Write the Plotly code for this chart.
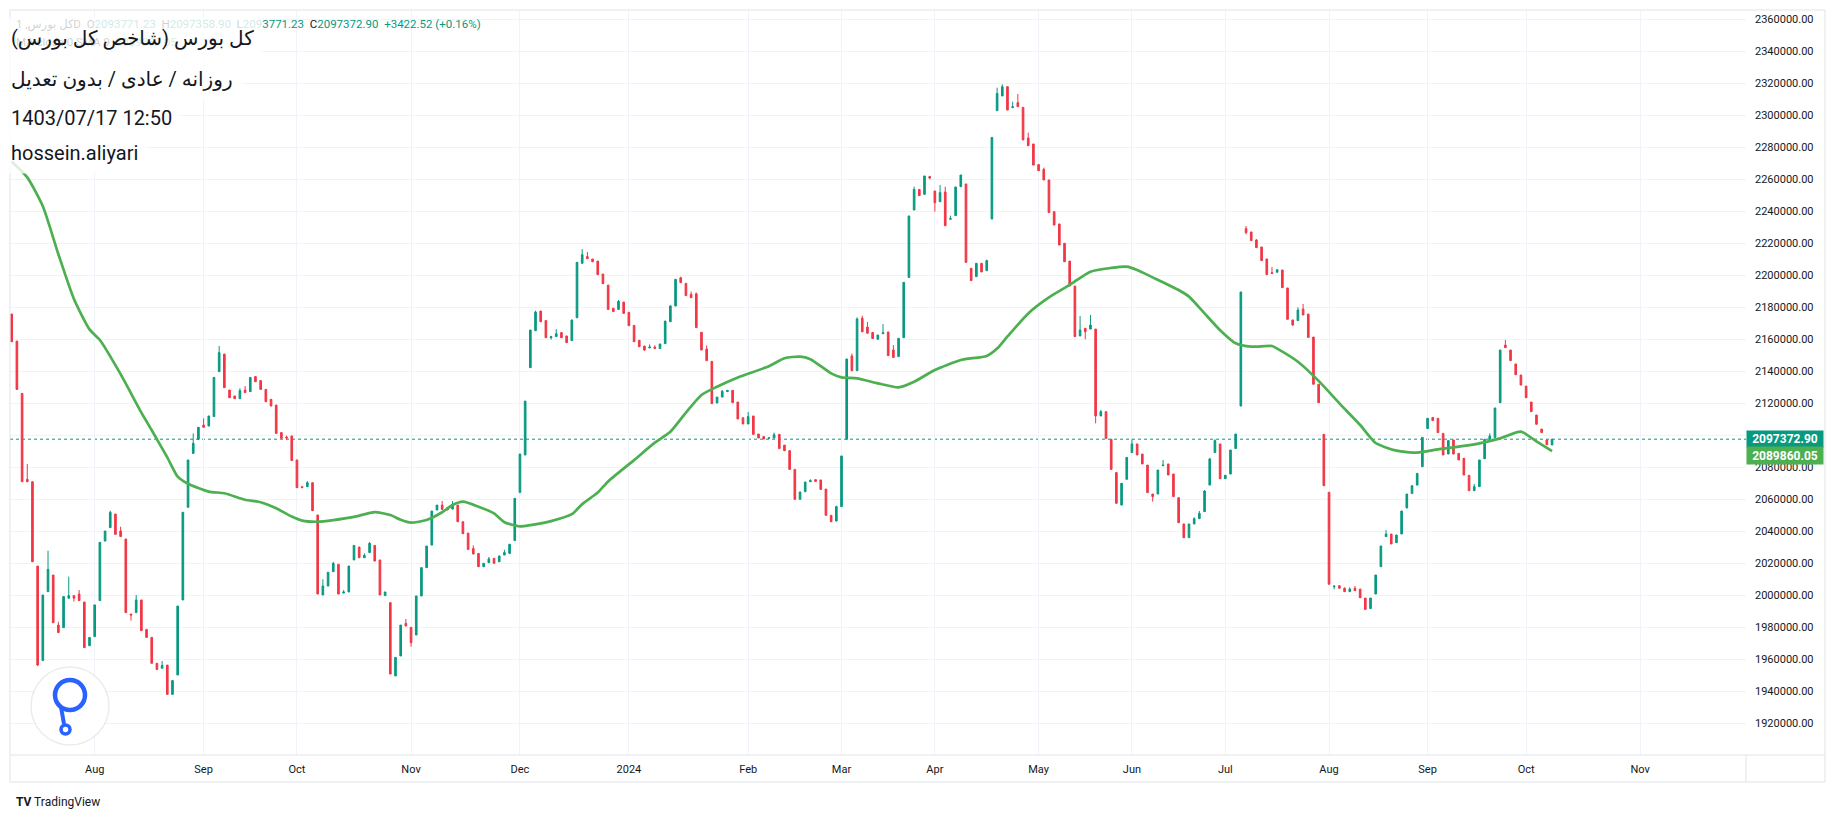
import plotly.graph_objects as go

# ---------------- data ----------------
opens = [
    2175600, 2158700, 2126000, 2072300, 2070800, 2018100, 1959000, 2002100, 2012500, 1981200,
    1979600, 1998000, 1999600, 2000600, 1995600, 1968300, 1974000, 1996500, 2033700, 2042100,
    2050600, 2040000, 2035000, 1988100, 1989000, 1996900, 1978500, 1973500, 1957300, 1954200,
    1956200, 1937900, 1950000, 1996900, 2054800, 2088500, 2097300, 2106200, 2105600, 2111500,
    2139600, 2150600, 2128100, 2124400, 2122700, 2128100, 2127100, 2136500, 2134000, 2128500,
    2122300, 2118700, 2101500, 2098700, 2099400, 2084400, 2067700, 2067700, 2070200, 2050000,
    2000000, 2005600, 2014600, 2019200, 2001200, 2001900, 2021900, 2030000, 2023300, 2026500,
    2031000, 2021900, 1999600, 1995200, 1949400, 1961900, 1982300, 1979800, 1975000, 1999400,
    2017100, 2031200, 2053100, 2056200, 2054600, 2053700, 2056200, 2045800, 2038700, 2029000,
    2026000, 2017700, 2020200, 2022900, 2020800, 2025000, 2026000, 2034000, 2064000, 2087500,
    2142100, 2165200, 2177500, 2171500, 2160800, 2161500, 2164000, 2161900, 2159000, 2173300,
    2207300, 2211500, 2210000, 2208700, 2200600, 2193700, 2179200, 2178500, 2183100, 2176700,
    2168500, 2159200, 2155600, 2154400, 2155000, 2154000, 2157100, 2170800, 2180600, 2198300,
    2194800, 2187900, 2188300, 2164200, 2153700, 2146000, 2120000, 2123700, 2127100, 2127900,
    2120600, 2110800, 2106900, 2111900, 2100600, 2099000, 2097900, 2098100, 2100400, 2093700,
    2090200, 2078500, 2059800, 2064600, 2070800, 2072100, 2071900, 2066200, 2049800, 2046200,
    2055200, 2097300, 2149400, 2140200, 2173000, 2167500, 2164100, 2159800, 2163300, 2164400,
    2153100, 2149000, 2160800, 2198500, 2240600, 2253500, 2250400, 2261500, 2252500, 2245800,
    2251900, 2234800, 2237100, 2255200, 2256900, 2204200, 2199000, 2207300, 2202700, 2235000,
    2302700, 2311900, 2317700, 2304600, 2307700, 2304800, 2285600, 2281900, 2269000, 2266000,
    2259400, 2239600, 2231900, 2219800, 2208700, 2193100, 2161900, 2166700, 2166200, 2166200,
    2111900, 2114600, 2097300, 2076500, 2056200, 2072300, 2089000, 2094400, 2088100, 2081200,
    2063100, 2063100, 2080800, 2081900, 2075600, 2060800, 2044400, 2035800, 2044400, 2047700,
    2052100, 2068700, 2089000, 2094400, 2072700, 2075600, 2091500, 2118100, 2229000, 2226900,
    2221900, 2217500, 2210000, 2201500, 2201700, 2203100, 2191900, 2171900, 2171500, 2178700,
    2175600, 2161200, 2131700, 2100400, 2064200, 2005200, 2005800, 2004200, 2002100, 2004200,
    2003700, 1998100, 1991500, 2000600, 2017700, 2036500, 2038100, 2032700, 2038100, 2054400,
    2063500, 2068700, 2080200, 2104000, 2111000, 2110400, 2101000, 2088100, 2096900, 2088500,
    2085400, 2074800, 2065200, 2067700, 2085200, 2097300, 2098500, 2120200, 2156200, 2153100,
    2144400, 2137500, 2130600, 2120600, 2112500, 2103700, 2096900, 2093771.23,
]

closes = [
    2158300, 2128500, 2070800, 2070800, 2020800, 1956200, 2000000, 2016000, 1982700, 1976500,
    1999000, 1999600, 1998000, 1996500, 1967100, 1973500, 1993800, 2032900, 2040000, 2051700,
    2037900, 2036500, 1989000, 1987500, 1996900, 1977700, 1973500, 1957300, 1953500, 1956000,
    1937900, 1946500, 1993100, 2051700, 2084400, 2094800, 2104800, 2104800, 2111900, 2136000,
    2151500, 2129600, 2123300, 2122700, 2127700, 2126500, 2136000, 2133300, 2128500, 2120800,
    2118100, 2101000, 2097900, 2098100, 2084000, 2067100, 2067100, 2070200, 2052700, 2000600,
    2005600, 2014200, 2019800, 2000600, 2001900, 2018100, 2031000, 2023300, 2024800, 2032300,
    2021200, 2000000, 2001900, 1950600, 1961000, 1981200, 1980600, 1970200, 1999400, 2017100,
    2030600, 2052500, 2056200, 2053500, 2053100, 2056700, 2045800, 2038300, 2028500, 2025600,
    2017700, 2019800, 2022500, 2019800, 2024400, 2026500, 2031700, 2060400, 2088100, 2121200,
    2165600, 2176900, 2170800, 2160800, 2161400, 2163300, 2160800, 2157700, 2171900, 2207900,
    2212700, 2210200, 2208300, 2200200, 2194600, 2178500, 2177100, 2183500, 2176000, 2168300,
    2158300, 2155200, 2153100, 2155000, 2154000, 2156900, 2171200, 2180600, 2197300, 2195200,
    2187100, 2185800, 2167100, 2153100, 2146500, 2119600, 2123700, 2127300, 2127900, 2120200,
    2110000, 2106900, 2111500, 2100400, 2098100, 2097500, 2098300, 2100200, 2091500, 2090200,
    2078500, 2059800, 2064400, 2070600, 2071500, 2071000, 2066000, 2049800, 2045800, 2055200,
    2086900, 2147500, 2140200, 2172500, 2164500, 2163600, 2160300, 2162500, 2163900, 2149600,
    2148500, 2160400, 2195400, 2236900, 2253500, 2249600, 2261900, 2260600, 2245200, 2251500,
    2230800, 2235200, 2255000, 2262500, 2207900, 2196500, 2207300, 2201900, 2209000, 2286000,
    2313500, 2317700, 2303100, 2305200, 2305200, 2284400, 2280800, 2268700, 2265200, 2259400,
    2239000, 2231200, 2218700, 2208300, 2193100, 2161500, 2165600, 2164600, 2168700, 2111900,
    2114600, 2097900, 2078500, 2057300, 2069800, 2086000, 2094400, 2087500, 2081900, 2064000,
    2061500, 2078100, 2081200, 2075000, 2061500, 2045200, 2035800, 2044400, 2047700, 2051000,
    2065000, 2085000, 2096500, 2072700, 2074800, 2090600, 2100600, 2189400, 2226500, 2221500,
    2217100, 2209000, 2200200, 2201000, 2203300, 2192100, 2172300, 2168700, 2178100, 2175000,
    2161000, 2131700, 2120200, 2068300, 2006700, 2005600, 2004200, 2002100, 2003700, 2002700,
    1998300, 1991000, 1998100, 2012500, 2030600, 2038100, 2031900, 2037500, 2052500, 2063100,
    2068300, 2076000, 2098500, 2110400, 2109000, 2101500, 2087500, 2096500, 2088100, 2084400,
    2075000, 2065200, 2067700, 2084400, 2097300, 2099400, 2116900, 2153100, 2154600, 2146500,
    2137700, 2131200, 2123300, 2114600, 2106700, 2101500, 2093950, 2097372.90,
]

# bars whose wick extends beyond the body (bar index -> high / low)
upper_wicks = {
    3: 2081900, 7: 2027700, 9: 1983300, 11: 2011500, 13: 2003100, 19: 2052700, 21: 2042700,
    24: 2000000, 29: 1958700, 35: 2101000, 37: 2110400, 40: 2155600, 44: 2129200, 45: 2130600,
    53: 2099600, 57: 2071200, 60: 2009800, 62: 2020600, 64: 2003100, 68: 2026000, 69: 2033100,
    76: 1985000, 83: 2058700, 85: 2058700, 89: 2031000, 92: 2023800, 95: 2028300, 101: 2177700,
    104: 2162000, 105: 2166200, 110: 2216200, 111: 2214400, 117: 2184400, 123: 2156600,
    124: 2156000, 127: 2181200, 129: 2198900, 131: 2189600, 132: 2189000, 134: 2156000,
    137: 2128100, 142: 2114400, 147: 2101500, 154: 2072300, 159: 2055800, 162: 2150900,
    163: 2173500, 164: 2174600, 165: 2170600, 168: 2169300, 170: 2156200, 174: 2255200,
    177: 2262000, 179: 2256200, 180: 2255200, 181: 2237100, 188: 2209600, 190: 2317100,
    191: 2319200, 193: 2308300, 194: 2313100, 196: 2289000, 199: 2267100, 206: 2174400,
    208: 2175000, 210: 2115600, 216: 2097300, 222: 2084400, 228: 2048500, 229: 2052500,
    230: 2065600, 231: 2085800, 232: 2097300, 238: 2230600, 240: 2222500, 243: 2205000,
    244: 2203700, 248: 2179800, 249: 2181900, 256: 2006200, 257: 2004800, 258: 2004800,
    259: 2005600, 265: 2040600, 282: 2069400, 285: 2101000, 288: 2159400,
}
lower_wicks = {
    5: 1955600, 12: 1995900, 23: 1984000, 53: 2097000, 77: 1967700, 104: 2159600,
    122: 2152500, 177: 2259800, 178: 2239600, 207: 2159800, 209: 2107300, 220: 2058300,
    238: 2225400, 247: 2168300, 255: 2003500,
}

# moving-average line read at sampled bars
ma_index = [0, 3, 6, 9, 12, 15, 17, 21, 25, 27, 30, 32, 34, 38, 41, 45, 48, 51, 54, 56, 59,
            62, 66, 70, 73, 75, 77, 80, 83, 85, 87, 90, 93, 95, 98, 100, 104, 108, 110, 113,
            115, 120, 124, 127, 130, 133, 136, 140, 146, 149, 152, 154, 158, 160, 163, 167,
            171, 174, 178, 183, 188, 190, 192, 196, 200, 204, 208, 212, 215, 217, 220, 225,
            227, 230, 233, 236, 239, 243, 244, 248, 252, 256, 260, 263, 267, 271, 275, 279,
            283, 287, 291, 294, 297]
ma_values = [2271000, 2261000, 2243000, 2213000, 2185000, 2166000, 2159400, 2138000, 2114000,
             2103000, 2086000, 2074000, 2069500, 2064600, 2063600, 2059500, 2058000, 2054200,
             2049000, 2046500, 2045800, 2046800, 2048800, 2051800, 2050000, 2047000, 2045200,
             2046900, 2051700, 2056200, 2058300, 2055200, 2051000, 2045500, 2042900, 2043700,
             2046200, 2050500, 2056800, 2064000, 2071000, 2084300, 2095200, 2102000, 2114000,
             2125000, 2130200, 2136000, 2143000, 2148000, 2149000, 2147400, 2138500, 2136000,
             2135400, 2132300, 2129800, 2133300, 2140600, 2146900, 2149400, 2154000, 2161600,
             2176000, 2186000, 2193800, 2202100, 2204400, 2205200, 2203100, 2198500, 2190600,
             2186500, 2176000, 2165500, 2157300, 2155200, 2155600, 2154000, 2145800, 2133800,
             2119800, 2106250, 2095000, 2090200, 2089000, 2091000, 2092700, 2094800, 2097900,
             2102100, 2096000, 2089860.05]

month_tick_index = [16, 37, 55, 77, 98, 119, 142, 160, 178, 198, 216, 234, 254, 273, 292, 314]
month_tick_text = ["Aug", "Sep", "Oct", "Nov", "Dec", "2024", "Feb", "Mar", "Apr", "May",
                   "Jun", "Jul", "Aug", "Sep", "Oct", "Nov"]
price_ticks = [1920000 + 20000 * k for k in range(23)]

last_open, last_high, last_low, last_close = 2093771.23, 2097358.90, 2093771.23, 2097372.90
change_abs, change_pct = 3422.52, 0.16
ma_last = 2089860.05

RLM = "\u200f"
title_lines = [RLM + "کل بورس (شاخص کل بورس)" + RLM,
               RLM + "روزانه / عادی / بدون تعدیل" + RLM,
               "1403/07/17 12:50", "hossein.aliyari"]

# ---------------- layout helpers ----------------
W, H = 1836, 818
ML, MR, MT, MB = 10, 90, 10, 63
PW, PH = W - ML - MR, H - MT - MB
UP, DN = "#089981", "#F23645"
MA_COLOR = "#4CAF50"
TXT = "#131722"
GRID = "#F0F3FA"
BORDER = "#E0E3EB"


def px_x(px):
    return (px - ML) / PW


def px_y(py):
    return (H - MB - py) / PH


bars = list(range(len(opens)))
highs = [max(o, c, upper_wicks.get(i, o)) for i, (o, c) in enumerate(zip(opens, closes))]
lows = [min(o, c, lower_wicks.get(i, o)) for i, (o, c) in enumerate(zip(opens, closes))]

fig = go.Figure()
fig.add_trace(go.Candlestick(
    x=bars, open=opens, high=highs, low=lows, close=closes,
    increasing=dict(line=dict(color=UP, width=1), fillcolor=UP),
    decreasing=dict(line=dict(color=DN, width=1), fillcolor=DN),
    whiskerwidth=0, hoverinfo="skip", showlegend=False,
))
fig.add_trace(go.Scatter(
    x=ma_index, y=ma_values, mode="lines",
    line=dict(color=MA_COLOR, width=2.7, shape="spline", smoothing=0.6),
    hoverinfo="skip", showlegend=False,
))

FONT = "Roboto, 'DejaVu Sans', 'Noto Sans', sans-serif"

fig.update_layout(
    width=W, height=H,
    margin=dict(l=ML, r=MR, t=MT, b=MB, pad=0),
    paper_bgcolor="white", plot_bgcolor="white",
    boxgap=0.55, showlegend=False, hovermode=False,
    font=dict(family=FONT, color=TXT, size=11),
)
fig.update_xaxes(
    range=[-0.33, 334.4], tickvals=month_tick_index, ticktext=month_tick_text,
    showgrid=True, gridcolor=GRID, gridwidth=1, zeroline=False,
    rangeslider=dict(visible=False), showline=False, ticks="",
    tickfont=dict(size=11, color=TXT, family=FONT), ticklabelstandoff=6,
)
fig.update_yaxes(
    side="right", range=[1900000, 2365625], tickvals=price_ticks, tickformat=".2f",
    showgrid=True, gridcolor=GRID, gridwidth=1, zeroline=False, showline=False,
    ticks="", tickfont=dict(size=11, color=TXT, family=FONT), ticklabelstandoff=8,
)

shapes = [
    # last price dotted line
    dict(type="line", xref="paper", yref="y", x0=0, x1=1, y0=last_close, y1=last_close,
         line=dict(color=UP, width=1, dash="dot"), layer="below"),
    # frame
    dict(type="rect", xref="paper", yref="paper", x0=px_x(10), x1=px_x(1825),
         y0=px_y(782), y1=px_y(10), line=dict(color=BORDER, width=1)),
    dict(type="line", xref="paper", yref="paper", x0=px_x(10), x1=px_x(1825),
         y0=0, y1=0, line=dict(color=BORDER, width=1)),
    dict(type="line", xref="paper", yref="paper", x0=1, x1=1,
         y0=px_y(782), y1=0, line=dict(color=BORDER, width=1)),
    # logo badge
    dict(type="circle", xref="paper", yref="paper", x0=px_x(31), x1=px_x(109),
         y0=px_y(745), y1=px_y(667), fillcolor="white",
         line=dict(color="rgba(0,0,0,0.08)", width=1.5)),
    dict(type="circle", xref="paper", yref="paper", x0=px_x(55), x1=px_x(85),
         y0=px_y(710), y1=px_y(680), line=dict(color="#2962FF", width=4.5)),
    dict(type="line", xref="paper", yref="paper", x0=px_x(61), x1=px_x(64),
         y0=px_y(707), y1=px_y(724), line=dict(color="#2962FF", width=4)),
    dict(type="circle", xref="paper", yref="paper", x0=px_x(61), x1=px_x(70),
         y0=px_y(734), y1=px_y(725), line=dict(color="#2962FF", width=3.5)),
]
fig.update_layout(shapes=shapes)


def span(t, c):
    return f"<span style='color:{c}'>{t}</span>"


header = (span("کل بورس, 1D", TXT) + "  " +
          span("O", TXT) + span(f"{last_open:.2f}", UP) + "  " +
          span("H", TXT) + span(f"{last_high:.2f}", UP) + "  " +
          span("L", TXT) + span(f"{last_low:.2f}", UP) + "  " +
          span("C", TXT) + span(f"{last_close:.2f}", UP) + "  " +
          span(f"+{change_abs:.2f} (+{change_pct:.2f}%)", UP))
legend2 = span("MA close 0 SMA 9  ", TXT) + span(f"{ma_last:.2f}", MA_COLOR)

annotations = [
    dict(xref="paper", yref="paper", x=px_x(14), y=px_y(25), xanchor="left", yanchor="middle",
         text=header, showarrow=False, font=dict(size=11.5, family=FONT)),
    dict(xref="paper", yref="paper", x=px_x(14), y=px_y(42), xanchor="left", yanchor="middle",
         text=legend2, showarrow=False, font=dict(size=11.5, family=FONT)),
]
line_centers = [37.5, 78.5, 118, 153.5]
for txt, yc in zip(title_lines, line_centers):
    annotations.append(dict(
        xref="paper", yref="paper", x=px_x(2), y=px_y(yc), xanchor="left", yanchor="middle",
        text=txt, showarrow=False, font=dict(size=20, color=TXT, family=FONT),
        bgcolor="rgba(255,255,255,0.8)", borderpad=8,
    ))

# price tags on the right axis
annotations.append(dict(
    xref="paper", yref="y", x=1, y=last_close, xanchor="left", yanchor="middle",
    text=f"<b>{last_close:.2f}</b>", showarrow=False, font=dict(size=12, color="white", family=FONT),
    bgcolor=UP, borderpad=1, width=74, height=14, align="center",
))
annotations.append(dict(
    xref="paper", yref="y", x=1, y=ma_last, yshift=-4, xanchor="left", yanchor="middle",
    text=f"<b>{ma_last:.2f}</b>", showarrow=False, font=dict(size=12, color="white", family=FONT),
    bgcolor=MA_COLOR, borderpad=1, width=74, height=15, align="center",
))
# TradingView attribution
annotations.append(dict(
    xref="paper", yref="paper", x=px_x(14), y=px_y(802), xanchor="left", yanchor="middle",
    text="<b>TV</b> TradingView", showarrow=False, font=dict(size=12, color=TXT, family=FONT),
))
fig.update_layout(annotations=annotations)

fig.write_html("out.html")
